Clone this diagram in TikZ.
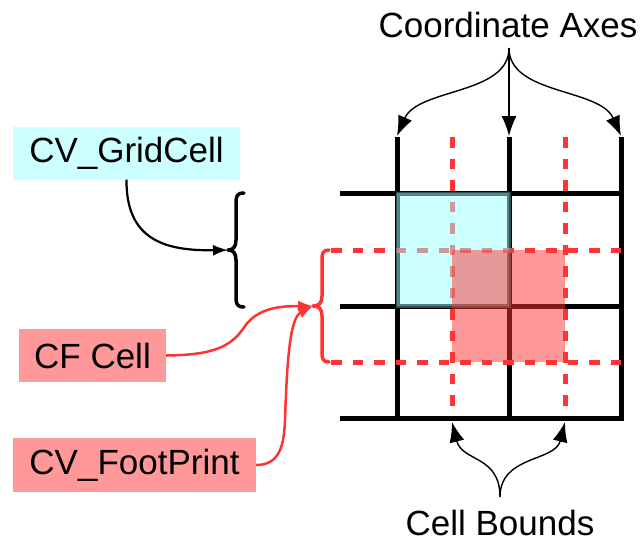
\documentclass[tikz,border=0pt]{standalone}
\usepackage{fontspec}
\setmainfont{Liberation Sans}
\usetikzlibrary{arrows.meta}
\definecolor{boxcyan}{HTML}{CCFFFF}
\definecolor{boxred}{HTML}{FF9999}
\definecolor{lred}{HTML}{FF3333}
\definecolor{sqcyan}{HTML}{99FFFF}
\begin{document}
\begin{tikzpicture}[x=1pt,y=-1pt,
  lbl/.style={font=\fontsize{35}{40}\selectfont, inner sep=0pt, anchor=center},
  labelbox/.style={lbl, minimum height=53pt},
  gridline/.style={line width=5pt, black},
  reddash/.style={line width=5pt, lred, dash pattern=on 10.5pt off 11pt},
  bigtip/.style={-{Latex[length=20pt,width=15pt]}},
  midtip/.style={-{Latex[length=15pt,width=11pt]}},
  axarrow/.style={bigtip, line width=1.4pt, black},
  bracestyle/.style={line width=3.5pt, line cap=round, line join=round}
]
\useasboundingbox (0,0) rectangle (643,542);

% grid
\foreach \x in {397,509,621} \draw[gridline] (\x,137) -- (\x,420.5);
\foreach \y in {193,306,418} \draw[gridline] (340,\y) -- (621,\y);
% red dashed cell bounds
\foreach \x in {452,565} \draw[reddash] (\x,137) -- (\x,416);
\foreach \y in {250,362} \draw[reddash] (331,\y) -- (621,\y);
% squares
\path[fill=sqcyan, draw=sqcyan!60!black, line width=3pt, opacity=0.5] (397,193) rectangle (509,306);
\fill[lred, opacity=0.5] (452,250) rectangle (565,362);

% label boxes
\node[labelbox, fill=boxcyan, minimum width=227pt] (gc) at (126.5,153) {CV\_GridCell};
\node[labelbox, fill=boxred, minimum width=147pt] (cf) at (92.5,355.5) {CF Cell};
\node[labelbox, fill=boxred, minimum width=243pt, minimum height=54pt] (fp) at (134.5,465) {CV\_FootPrint};
\node[lbl] (ca) at (508,25) {Coordinate Axes};
\node[lbl] (cb) at (500,523) {Cell Bounds};

% braces
\coordinate (gtip) at (228,250);
\coordinate (rtip) at (313,306);
\draw[bracestyle, black] (244,193) .. controls (237,193) and (236,196) .. (236,203) -- (236,240)
  .. controls (236,247) and (233,250) .. (gtip) .. controls (233,250) and (236,253) .. (236,260)
  -- (236,297) .. controls (236,304) and (237,307) .. (244,307);
\draw[bracestyle, lred] (329,250) .. controls (323,250) and (322,253) .. (322,260) -- (322,296)
  .. controls (322,303) and (319,306) .. (rtip) .. controls (319,306) and (322,309) .. (322,316)
  -- (322,352) .. controls (322,359) and (323,362) .. (329,362);

% connectors to braces
\draw[midtip, line width=2.2pt, black] (gc.south) .. controls (126,240) and (165,251) .. (gtip);
\draw[midtip, line width=2.5pt, lred] (cf.east) .. controls (215,355) and (232,346) .. (245,326)
  .. controls (258,308) and (280,306) .. (rtip);
\draw[midtip, line width=2.5pt, lred] (fp.east) .. controls (280,465) and (284,445) .. (285,420)
  .. controls (287,360) and (290,318) .. (rtip);

% coordinate axes arrows
\coordinate (cas) at (509,48);
\coordinate (axL) at (397,136);
\coordinate (axM) at (509,136);
\coordinate (axR) at (621,136);
\draw[axarrow] (cas) .. controls (509,95) and (418,88) .. (axL);
\draw[axarrow] (cas) -- (axM);
\draw[axarrow] (cas) .. controls (509,95) and (600,88) .. (axR);

% cell bounds arrows
\coordinate (cbs) at (500,497);
\coordinate (cbL) at (452,422);
\coordinate (cbR) at (565,422);
\draw[axarrow] (cbs) .. controls (500,455) and (462,462) .. (cbL);
\draw[axarrow] (cbs) .. controls (500,455) and (555,462) .. (cbR);
\end{tikzpicture}
\end{document}
